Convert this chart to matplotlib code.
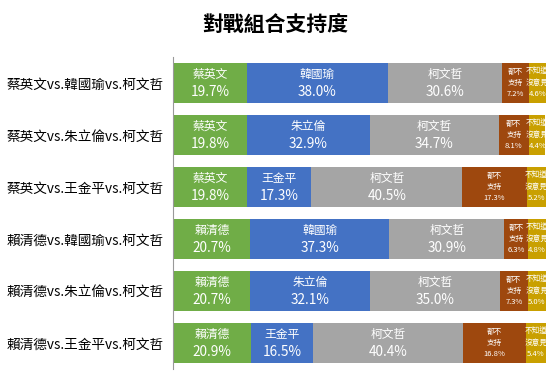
import matplotlib
matplotlib.use("Agg")
import matplotlib.pyplot as plt
import numpy as np

plt.rcParams['font.family'] = ['Noto Sans CJK TC', 'DejaVu Sans']

matchups = ["蔡英文vs.韓國瑜vs.柯文哲", "蔡英文vs.朱立倫vs.柯文哲", "蔡英文vs.王金平vs.柯文哲",
            "賴清德vs.韓國瑜vs.柯文哲", "賴清德vs.朱立倫vs.柯文哲", "賴清德vs.王金平vs.柯文哲"]
dpp_names = ["蔡英文", "蔡英文", "蔡英文", "賴清德", "賴清德", "賴清德"]
kmt_names = ["韓國瑜", "朱立倫", "王金平", "韓國瑜", "朱立倫", "王金平"]
ko_names = ["柯文哲"] * 6
dpp = [19.7, 19.8, 19.8, 20.7, 20.7, 20.9]
kmt = [38.0, 32.9, 17.3, 37.3, 32.1, 16.5]
ko = [30.6, 34.7, 40.5, 30.9, 35.0, 40.4]
none_ = [7.2, 8.1, 17.3, 6.3, 7.3, 16.8]
unknown = [4.6, 4.4, 5.2, 4.8, 5.0, 5.4]

colors = ["#70AD47", "#4472C4", "#A5A5A5", "#9E480E", "#C9A000"]

fig = plt.figure(figsize=(5.5, 3.9), dpi=100)
ax = fig.add_axes([0.315, 0.054, 0.678, 0.80])
fig.text(0.5, 0.935, "對戰組合支持度", ha="center", va="center", fontsize=15, fontweight="bold")

y = np.arange(len(matchups))
h = 0.77
left = np.zeros(len(matchups))
series = [dpp, kmt, ko, none_, unknown]
for vals, c in zip(series, colors):
    ax.barh(y, vals, left=left, height=h, color=c)
    left = left + np.array(vals)

for i in range(len(matchups)):
    x0 = 0
    for vals, names in zip(series[:3], [dpp_names, kmt_names, ko_names]):
        cx = x0 + vals[i] / 2
        ax.text(cx, i - h * 0.22, names[i], ha="center", va="center", color="white", fontsize=8.5)
        ax.text(cx, i + h * 0.22, f"{vals[i]:.1f}%", ha="center", va="center", color="white", fontsize=9.8)
        x0 += vals[i]
    # 都不支持 / 不知道沒意見
    cx = x0 + none_[i] / 2
    for dy, t in zip([-0.27, 0, 0.27], ["都不", "支持", f"{none_[i]:.1f}%"]):
        ax.text(cx, i + dy * h, t, ha="center", va="center", color="white", fontsize=5.5)
    x0 += none_[i]
    cx = x0 + unknown[i] / 2
    for dy, t in zip([-0.27, 0, 0.27], ["不知道", "沒意見", f"{unknown[i]:.1f}%"]):
        ax.text(cx, i + dy * h, t, ha="center", va="center", color="white", fontsize=5.5)

ax.set_xlim(0, 100.1)
ax.set_ylim(len(matchups) - 0.5, -0.5)
ax.set_yticks(y)
ax.set_yticklabels(matchups, fontsize=9.8)
ax.set_xticks([])
ax.tick_params(axis="y", length=0, pad=7)
for s in ["top", "right", "bottom"]:
    ax.spines[s].set_visible(False)
ax.spines["left"].set_color("#999999")

fig.savefig("out.png", dpi=100)
